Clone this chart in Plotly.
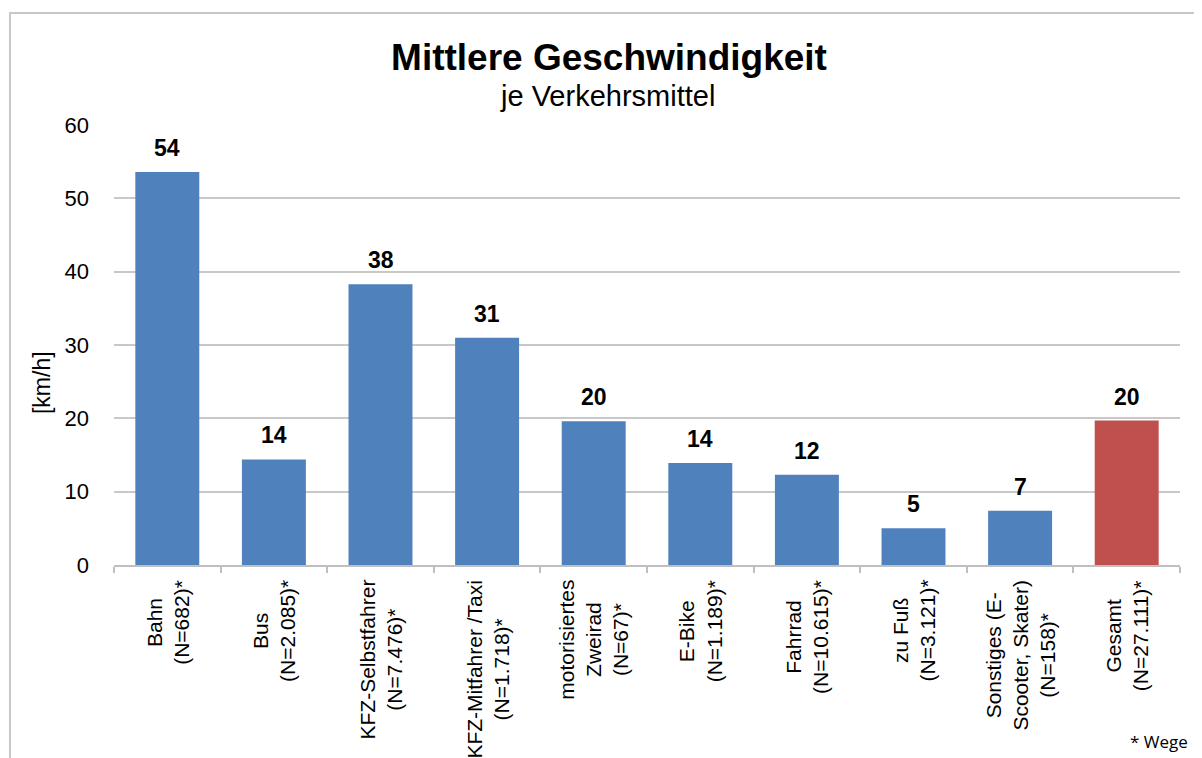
import plotly.graph_objects as go

# ---- data ----
categories = ["Bahn", "Bus", "KFZ-Selbstfahrer", "KFZ-Mitfahrer /Taxi",
              "motorisiertes Zweirad", "E-Bike", "Fahrrad", "zu Fuß",
              "Sonstiges (E-Scooter, Skater)", "Gesamt"]
tick_labels = ["Bahn<br>(N=682)*", "Bus<br>(N=2.085)*",
               "KFZ-Selbstfahrer<br>(N=7.476)*", "KFZ-Mitfahrer /Taxi<br>(N=1.718)*",
               "motorisiertes<br>Zweirad<br>(N=67)*", "E-Bike<br>(N=1.189)*",
               "Fahrrad<br>(N=10.615)*", "zu Fuß<br>(N=3.121)*",
               "Sonstiges (E-<br>Scooter, Skater)<br>(N=158)*", "Gesamt<br>(N=27.111)*"]
speeds = [53.6, 14.4, 38.3, 31.0, 19.6, 13.9, 12.3, 5.0, 7.4, 19.7]
bar_colors = ["#4F81BD"] * 9 + ["#C0504D"]

FONT = "Liberation Sans, Arial, sans-serif"
W, H = 1186, 750  # page body has an 8px margin

fig = go.Figure(go.Bar(
    x=categories, y=speeds,
    marker=dict(color=bar_colors, line=dict(width=0)),
    hoverinfo="x+y",
))

annotations = []
# value labels
for c, v in zip(categories, speeds):
    annotations.append(dict(
        x=c, y=v, xref="x", yref="y", text=f"<b>{round(v)}</b>",
        showarrow=False, yanchor="bottom", yshift=9,
        font=dict(family=FONT, size=23, color="#000000")))
# category labels (rotated, centered lines)
for c, t in zip(categories, tick_labels):
    annotations.append(dict(
        x=c, y=0, xref="x", yref="paper", text=t, textangle=-90,
        align="center", showarrow=False, yanchor="top", xanchor="center",
        yshift=-13, font=dict(family=FONT, size=21, color="#000000")))
# y axis title
annotations.append(dict(
    x=-0.0675, y=0.4136, xref="paper", yref="paper", text="[km/h]",
    textangle=-90, showarrow=False, xanchor="center", yanchor="middle",
    font=dict(family=FONT, size=23, color="#000000")))
# subtitle
annotations.append(dict(
    x=0.4625, y=1.066, xref="paper", yref="paper", text="je Verkehrsmittel",
    showarrow=False, xanchor="center", yanchor="middle",
    font=dict(family=FONT, size=29, color="#000000")))
# footnote
annotations.append(dict(
    x=1.0094, y=-0.4, xref="paper", yref="paper", text="* Wege",
    showarrow=False, xanchor="right", yanchor="middle",
    font=dict(family="Open Sans, sans-serif", size=17, color="#000000")))

fig.update_layout(
    width=W, height=H,
    margin=dict(l=106, r=14, t=117, b=193),
    paper_bgcolor="white", plot_bgcolor="white",
    font=dict(family=FONT, color="#000000"),
    showlegend=False,
    bargap=0.4,
    title=dict(text="<b>Mittlere Geschwindigkeit</b>", x=601 / W, xanchor="center",
               y=1 - 49 / H, yanchor="middle",
               font=dict(family=FONT, size=37, color="#000000")),
    xaxis=dict(showticklabels=False, showline=True, linecolor="#BFBFBF",
               linewidth=2, ticks="outside", tickson="boundaries",
               ticklen=6, tickcolor="#BFBFBF", tickwidth=2, showgrid=False),
    yaxis=dict(range=[0, 60], dtick=10, showgrid=True, gridcolor="#C8C8C8",
               gridwidth=2, zeroline=False, showline=False, ticks="",
               ticklabelstandoff=24,
               tickfont=dict(family=FONT, size=22, color="#000000")),
    annotations=annotations,
    shapes=[dict(type="rect", xref="paper", yref="paper",
                 x0=-0.0976, x1=1.05, y0=-0.5, y1=1.2545,
                 line=dict(color="#C8C8C8", width=2), fillcolor="rgba(0,0,0,0)",
                 layer="below")],
)

fig.write_html("out.html")
